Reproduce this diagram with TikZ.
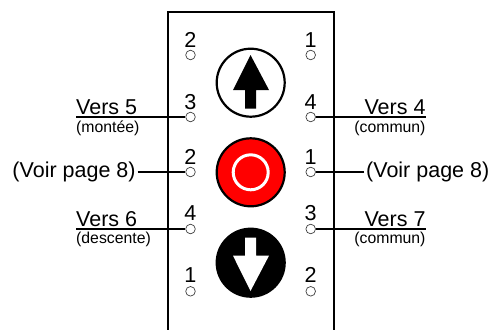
\documentclass[tikz,border=0pt]{standalone}
\usepackage{fontspec}
\setmainfont{Liberation Sans}
\tikzset{
  pin/.style={circle,draw=black!75,line width=0.7pt,fill=white,minimum size=9.6pt,inner sep=0pt},
  num/.style={font=\fontsize{21.6}{22}\selectfont,inner sep=0pt,anchor=base},
  big/.style={font=\fontsize{21.5}{22}\selectfont,inner sep=0pt},
  small/.style={font=\fontsize{15.8}{16}\selectfont,inner sep=0pt},
  wire/.style={line width=2pt,black},
  frameline/.style={line width=1.9pt,black},
  btn/.style={circle,minimum size=68pt,inner sep=0pt,line width=2.2pt,draw=black},
}
\begin{document}
\begin{tikzpicture}[x=1pt,y=-1pt]
\useasboundingbox (0,0) rectangle (491,330);
\fill[white] (0,0) rectangle (491,330);
\draw[frameline] (167.8,330) -- (167.8,12) -- (334,12) -- (334,330);
% buttons
\node[btn,fill=white] (up) at (250.7,82.7) {};
\node[btn,fill=red] (stop) at (250.7,172.3) {};
\node[btn,fill=black] (down) at (250.7,262.7) {};
\fill[black] (250.5,55) -- (269,90) -- (256.2,90) -- (256.2,108.5) -- (245,108.5) -- (245,90) -- (233,90) -- cycle;
\draw[white,line width=3pt] (stop.center) circle (17.5);
\fill[white] (250.5,291) -- (269,255.7) -- (256.2,255.7) -- (256.2,237.7) -- (245,237.7) -- (245,255.7) -- (233,255.7) -- cycle;
% labels
\node[big,anchor=base west] (v5) at (76,114.3) {Vers 5};
\node[small,anchor=base west] (m5) at (76,132.4) {(montée)};
\node[big,anchor=base east] (v4) at (425.7,114.3) {Vers 4};
\node[small,anchor=base east] (m4) at (425.7,132.4) {(commun)};
\node[big,anchor=base west] (v6) at (76,226) {Vers 6};
\node[small,anchor=base west] (m6) at (76,243.5) {(descente)};
\node[big,anchor=base east] (v7) at (425.7,226) {Vers 7};
\node[small,anchor=base east] (m7) at (425.7,243.5) {(commun)};
\node[big,anchor=base east] (pl) at (135.8,177.8) {(Voir page 8)};
\node[big,anchor=base west] (pr) at (366,177.8) {(Voir page 8)};
% pins
\node[pin] (l1) at (190.5,55) {};
\node[pin] (l2) at (190.5,117) {};
\node[pin] (l3) at (190.5,172) {};
\node[pin] (l4) at (190.5,229) {};
\node[pin] (l5) at (190.5,291.3) {};
\node[pin] (r1) at (310.7,55) {};
\node[pin] (r2) at (310.7,117) {};
\node[pin] (r3) at (310.7,172) {};
\node[pin] (r4) at (310.7,229) {};
\node[pin] (r5) at (310.7,291.3) {};
% wires
\coordinate (e5) at (76,117);
\coordinate (e4) at (425.7,117);
\coordinate (e6) at (76,229);
\coordinate (e7) at (425.7,229);
\coordinate (epl) at (137.5,172);
\coordinate (epr) at (364,172);
\draw[wire] (e5) -- (l2);
\draw[wire] (e4) -- (r2);
\draw[wire] (e6) -- (l4);
\draw[wire] (e7) -- (r4);
\draw[wire] (epl) -- (l3);
\draw[wire] (epr) -- (r3);
% pin numbers
\node[num] (nl1) at (190.5,47) {2};
\node[num] (nl2) at (190.5,109) {3};
\node[num] (nl3) at (190.5,164) {2};
\node[num] (nl4) at (190.5,220) {4};
\node[num] (nl5) at (190.5,282.3) {1};
\node[num] (nr1) at (310.7,47) {1};
\node[num] (nr2) at (310.7,109) {4};
\node[num] (nr3) at (310.7,164) {1};
\node[num] (nr4) at (310.7,220) {3};
\node[num] (nr5) at (310.7,282.3) {2};
\end{tikzpicture}
\end{document}
